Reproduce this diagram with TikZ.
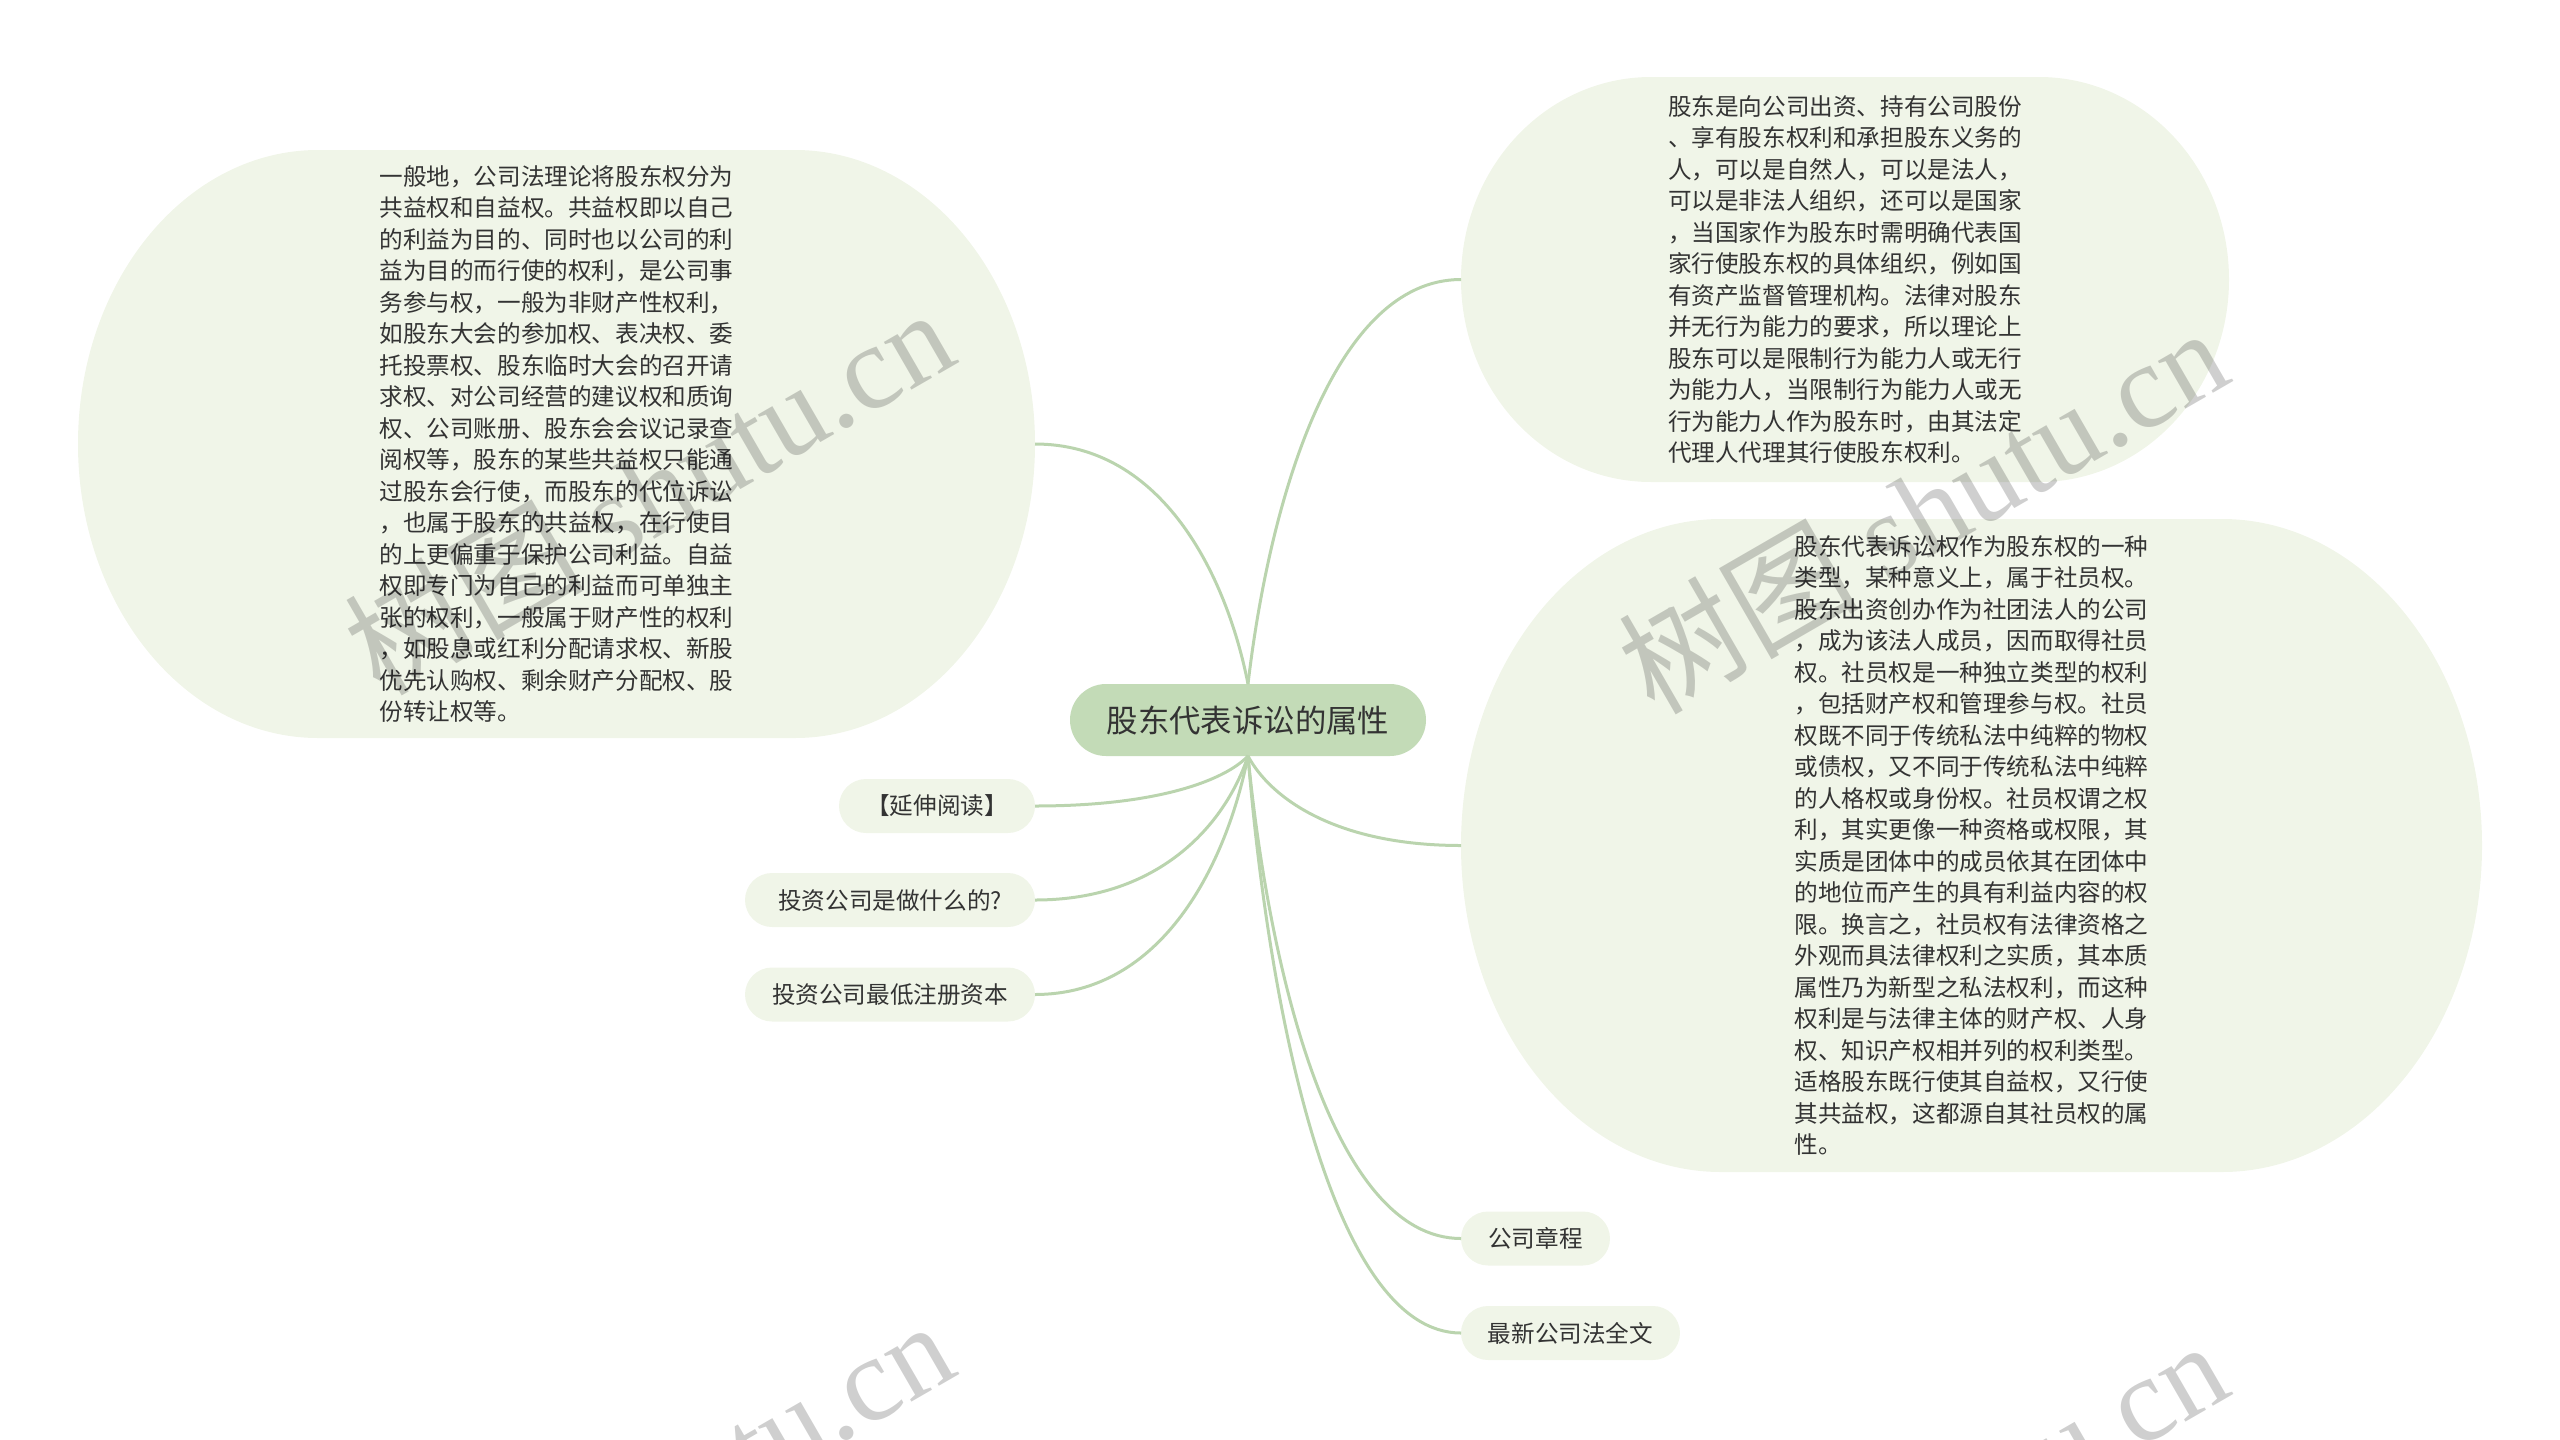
\documentclass[tikz,border=0pt]{standalone}
\usepackage{fontspec}
\setmainfont{Noto Sans CJK SC}
\newfontfamily\wmlat{Liberation Serif}
\usetikzlibrary{calc}
\definecolor{blobfill}{HTML}{F0F5E8}
\definecolor{rootfill}{HTML}{C3DBB7}
\definecolor{linec}{HTML}{BAD4AE}
\definecolor{txt}{HTML}{333333}
\newcommand\bodyfont{\fontsize{11.8pt}{15.75pt}\selectfont}
\newcommand\conn[2]{\draw[conn] let \p1=(#1), \p2=(#2) in (\p1) .. controls ({\x1+0.1*(\x2-\x1)},{\y1+0.45*(\y2-\y1)}) and ({\x1+0.4*(\x2-\x1)},\y2) .. (\p2);}
\tikzset{
  blob/.style n args={3}{shape=rectangle, inner sep=0pt, outer sep=0pt,
    minimum width={2*#1*1pt}, minimum height={2*#2*1pt},
    align=left, text=txt, font=\bodyfont,
    path picture={\fill[blobfill] let \p1=(path picture bounding box.center) in
      ({\x1+(-#1+#3)*1pt},{\y1+#2*1pt}) -- ({\x1+(#1-#3)*1pt},{\y1+#2*1pt})
      arc[start angle=90,end angle=-90,x radius=#3pt,y radius=#2pt]
      -- ({\x1+(-#1+#3)*1pt},{\y1-#2*1pt})
      arc[start angle=270,end angle=90,x radius=#3pt,y radius=#2pt] -- cycle;}},
  rootbox/.style={shape=rectangle, fill=rootfill, rounded corners=18pt,
    minimum width=178pt, minimum height=36pt, inner sep=0pt, outer sep=0pt,
    text=txt, font=\fontsize{15.7pt}{18pt}\selectfont},
  leaf/.style={shape=rectangle, fill=blobfill, rounded corners=13.5pt,
    minimum height=27pt, inner sep=0pt, outer sep=0pt,
    text=txt, font=\bodyfont, minimum width=#1},
  conn/.style={draw=linec, line width=1.5pt},
  wm/.style={text=black, opacity=0.19, rotate=30, inner sep=0pt,
    font=\fontsize{60pt}{60pt}\selectfont}
}
\begin{document}
\begin{tikzpicture}[x=0.5pt,y=-0.5pt]
\useasboundingbox (0,0) rectangle (2560,1440);
\clip (0,0) rectangle (2560,1440);

\node[blob={239.25}{147}{120}] (lb) at (556.5,444) {一般地，公司法理论将股东权分为\\共益权和自益权。共益权即以自己\\的利益为目的、同时也以公司的利\\益为目的而行使的权利，是公司事\\务参与权，一般为非财产性权利，\\如股东大会的参加权、表决权、委\\托投票权、股东临时大会的召开请\\求权、对公司经营的建议权和质询\\权、公司账册、股东会会议记录查\\阅权等，股东的某些共益权只能通\\过股东会行使，而股东的代位诉讼\\，也属于股东的共益权，在行使目\\的上更偏重于保护公司利益。自益\\权即专门为自己的利益而可单独主\\张的权利，一般属于财产性的权利\\，如股息或红利分配请求权、新股\\优先认购权、剩余财产分配权、股\\份转让权等。};

\node[blob={192}{101.25}{95}] (rt) at (1845,279.5) {股东是向公司出资、持有公司股份\\、享有股东权利和承担股东义务的\\人，可以是自然人，可以是法人，\\可以是非法人组织，还可以是国家\\，当国家作为股东时需明确代表国\\家行使股东权的具体组织，例如国\\有资产监督管理机构。法律对股东\\并无行为能力的要求，所以理论上\\股东可以是限制行为能力人或无行\\为能力人，当限制行为能力人或无\\行为能力人作为股东时，由其法定\\代理人代理其行使股东权利。};

\node[blob={255.25}{163.25}{130}] (rm) at (1971.5,845.5) {股东代表诉讼权作为股东权的一种\\类型，某种意义上，属于社员权。\\股东出资创办作为社团法人的公司\\，成为该法人成员，因而取得社员\\权。社员权是一种独立类型的权利\\，包括财产权和管理参与权。社员\\权既不同于传统私法中纯粹的物权\\或债权，又不同于传统私法中纯粹\\的人格权或身份权。社员权谓之权\\利，其实更像一种资格或权限，其\\实质是团体中的成员依其在团体中\\的地位而产生的具有利益内容的权\\限。换言之，社员权有法律资格之\\外观而具法律权利之实质，其本质\\属性乃为新型之私法权利，而这种\\权利是与法律主体的财产权、人身\\权、知识产权相并列的权利类型。\\适格股东既行使其自益权，又行使\\其共益权，这都源自其社员权的属\\性。};

\node[rootbox] (root) at (1248,720) {股东代表诉讼的属性};

\node[leaf=98pt] (ext) at (937,806) {【延伸阅读】};
\node[leaf=145pt] (q1) at (890,900) {投资公司是做什么的?};
\node[leaf=145pt] (q2) at (890,994.5) {投资公司最低注册资本};
\node[leaf=74.5pt] (zc) at (1535.5,1238.5) {公司章程};
\node[leaf=109.5pt] (fl) at (1570.5,1333) {最新公司法全文};

\conn{root.north}{lb.east}
\conn{root.north}{rt.west}
\conn{root.south}{rm.west}
\conn{root.south}{ext.east}
\conn{root.south}{q1.east}
\conn{root.south}{q2.east}
\conn{root.south}{zc.west}
\conn{root.south}{fl.west}

\node[wm] (wm1) at (648,490) {树图 {\wmlat shutu.cn}};
\node[wm] (wm2) at (1922,509) {树图 {\wmlat shutu.cn}};
\node[wm] (wm3) at (648,1502) {树图 {\wmlat shutu.cn}};
\node[wm] (wm4) at (1922,1522) {树图 {\wmlat shutu.cn}};
\end{tikzpicture}
\end{document}
